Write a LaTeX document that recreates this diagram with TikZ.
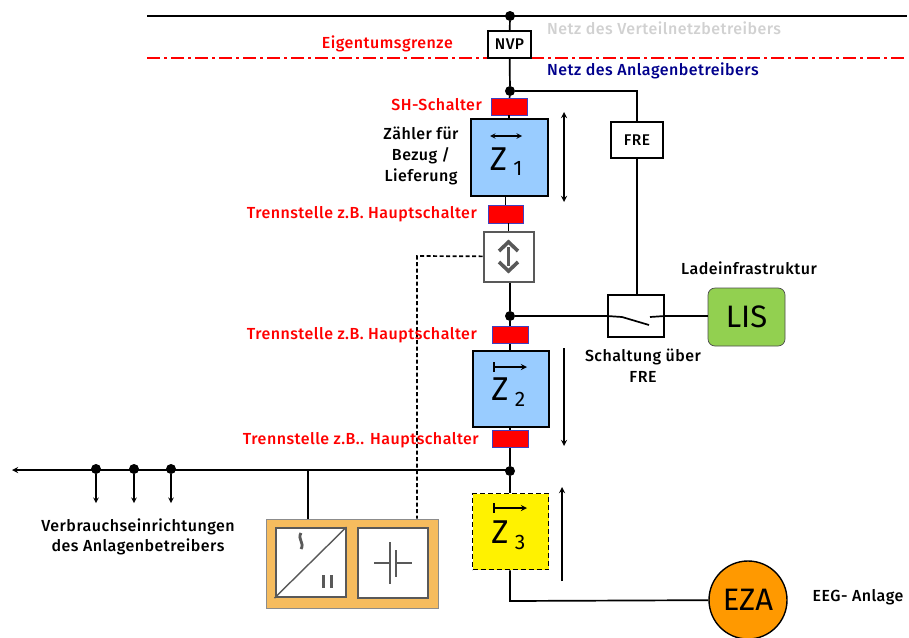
\documentclass[tikz,border=0pt]{standalone}
\usepackage{fontspec}
\setmainfont{Fira Sans}[BoldFont={* Medium},BoldFeatures={LetterSpace=3}]
\definecolor{zblue}{HTML}{99CCFF}
\definecolor{lisgreen}{HTML}{92D050}
\definecolor{ezaorange}{HTML}{FF9900}
\definecolor{wrorange}{HTML}{F6BC5E}
\definecolor{boxgrey}{HTML}{595959}
\tikzset{
wire/.style={line width=1.7pt},
thinwire/.style={line width=1.4pt},
junction/.style={circle,fill=black,inner sep=0pt,minimum size=10pt},
frame/.style={draw=black,line width=1.7pt,fill=white,rectangle,inner sep=0pt},
redtag/.style={draw=blue!50!gray,line width=.4pt,fill=red,rectangle,inner sep=0pt},
zbox/.style={draw=black,line width=2pt,rectangle,inner sep=0pt,minimum size=76pt},
redtxt/.style={text=red,font=\bfseries\fontsize{16}{18}\selectfont,inner sep=0pt},
blacktxt/.style={text=black,font=\bfseries\fontsize{16}{21}\selectfont,inner sep=0pt,align=center},
ztxt/.style={inner sep=0pt,font=\fontsize{33}{35}\selectfont},
zsub/.style={inner sep=0pt,font=\fontsize{21}{23}\selectfont},
}
\begin{document}
\begin{tikzpicture}[x=1pt,y=-1pt,>=stealth]
\useasboundingbox (0,0) rectangle (909,637);
% netz
\coordinate (topl) at (147,16);
\coordinate (topr) at (907,16);
\coordinate (redl) at (147,58);
\coordinate (redr) at (907,58);
\draw[red,line width=1.4pt,dash pattern=on 13pt off 4pt on 3pt off 4pt] (redl) -- (redr);
\draw[wire] (topl) -- (topr);
\node[junction] (jtop) at (510,16) {};
\node[frame,minimum width=43pt,minimum height=27pt,font=\bfseries\fontsize{15.5}{17}\selectfont] (nvp) at (509.5,44.5) {NVP};
\node[junction] (jfre) at (510,91) {};
\node[frame,minimum width=52pt,minimum height=36pt,font=\bfseries\fontsize{15.5}{17}\selectfont] (fre) at (637,140) {FRE};
\node[redtag,minimum width=36pt,minimum height=17pt] (sh) at (509,106.5) {};
\node[zbox,fill=zblue,minimum size=77pt] (z1) at (509,157) {};
\node[redtag,minimum width=35pt,minimum height=18pt] (t1) at (505.5,214) {};
\node[frame,draw=boxgrey,line width=2pt,minimum size=50pt] (bidir) at (508.5,256.5) {};
\node[junction] (jlis) at (510,316) {};
\node[redtag,minimum width=36pt,minimum height=17pt] (t2) at (510,335) {};
\node[zbox,fill=zblue] (z2) at (510.5,388.5) {};
\node[redtag,minimum width=36pt,minimum height=17pt] (t3) at (510,439) {};
\node[junction] (jbus) at (510,471) {};
\node[zbox,fill=yellow,dash pattern=on 5pt off 3pt,line width=1.8pt] (z3) at (510.5,531.5) {};
\node[frame,minimum width=56pt,minimum height=42pt] (sw) at (636,316) {};
\node[draw=black!70,line width=.7pt,fill=lisgreen,rounded corners=7pt,minimum width=77pt,minimum height=58pt,inner sep=0pt,font=\fontsize{31}{33}\selectfont] (lis) at (746.5,317) {LIS};
\node[circle,draw=black,line width=1.4pt,fill=ezaorange,minimum size=78pt,inner sep=0pt,font=\fontsize{31}{33}\selectfont] (eza) at (748,600) {EZA};
\node[draw=black!45,line width=.8pt,fill=wrorange,rectangle,minimum width=172pt,minimum height=89pt,inner sep=0pt] (wr) at (352,563.5) {};
\node[frame,draw=boxgrey,line width=2pt,minimum width=70pt,minimum height=69pt] (ac) at (310.5,562.5) {};
\node[frame,draw=boxgrey,line width=2pt,minimum width=70pt,minimum height=70pt] (batt) at (393,563) {};
% leitungen
\draw[wire] (jtop) -- (nvp);
\draw[wire] (nvp) -- (jfre);
\draw[wire] (jfre) -- (sh);
\draw[wire] (jfre) -| (fre);
\draw[wire] (sh) -- (sh|-z1.north);
\draw[wire] (t1|-z1.south) -- (t1);
\draw[wire] (t1.south-|bidir) -- (bidir);
\draw[wire] (bidir.south-|jlis) -- (jlis);
\draw[wire] (jlis) -- (t2);
\draw[wire] (t2) -- (t2|-z2.north);
\draw[wire] (t3|-z2.south) -- (t3);
\draw[wire] (t3) -- (jbus);
\draw[wire] (jbus) -- (jbus|-z3.north);
\coordinate (ezacorner) at (510,601);
\draw[wire] (z3.south-|ezacorner) -- (ezacorner) -- (eza);
\draw[line width=1.1pt] (fre) -- (fre|-sw.north);
\draw[wire] (jlis) -- (sw.west);
\draw[wire] (sw.east) -- (lis.west|-sw.east);
\coordinate (busl) at (12,470);
\draw[wire,->] (jbus.center|-busl) -- (busl);
\foreach \x/\n in {96/a,134/b,171/c} {
\node[junction] (load\n) at (\x,469) {};
\coordinate (loadend\n) at (\x,503);
\draw[thinwire,->] (load\n) -- (loadend\n);
}
\coordinate (busac) at (308,470);
\draw[wire] (busac) -- (busac|-wr.north);
\coordinate (dashc) at (417,256);
\draw[wire,dash pattern=on 4pt off 2.5pt] (bidir) -- (dashc) -- (dashc|-wr.north);
% schalter
\draw[wire] (sw.west) -- (622,317) -- (649,325);
\draw[wire] (650,317) -- (sw.east);
% zaehlpfeile
\draw[wire,<->] (564,112) -- (564,202);
\draw[wire,->] (564,348) -- (564,446);
\draw[wire,->] (562,581) -- (562,487);
\draw[thinwire,<->] (490,136) -- (522,136);
\foreach \y in {367,508} {
\draw[wire,|->] (493,\y) -- (527,\y);
}
% z texte
\node[ztxt] (z1t) at (498.5,159) {Z};
\node[zsub] (z1s) at (518,168) {1};
\node[ztxt] (z2t) at (500,389) {Z};
\node[zsub] (z2s) at (520,399) {2};
\node[ztxt] (z3t) at (500,532) {Z};
\node[zsub] (z3s) at (520,542) {3};
% bidir symbol
\draw[boxgrey,line width=2.6pt] (508.5,247) -- (508.5,266);
\draw[boxgrey,line width=3.6pt] (499,251) -- (508.5,242) -- (518,251);
\draw[boxgrey,line width=3.6pt] (499,262) -- (508.5,271) -- (518,262);
% umrichter
\draw[boxgrey,line width=1.4pt] (ac.south west) -- (ac.north east);
\draw[boxgrey,line width=2.8pt] (301,533) .. controls (297,539) and (305,543) .. (301,549);
\draw[boxgrey,line width=3pt] (323,575) -- (323,588) (331,575) -- (331,588);
\draw[boxgrey,line width=1.8pt] (374,563) -- (390,563) (390,542) -- (390,584);
\draw[boxgrey,line width=2.4pt] (396,550) -- (396,577);
\draw[boxgrey,line width=1.8pt] (396,563) -- (412,563);
% texte
\node[inner sep=0pt,text=black!18,font=\bfseries\fontsize{16}{18}\selectfont,anchor=west] (vnb) at (547,28) {Netz des Verteilnetzbetreibers};
\node[inner sep=0pt,text=blue!55!black,font=\bfseries\fontsize{16}{18}\selectfont,anchor=west] (anb) at (547,71) {Netz des Anlagenbetreibers};
\node[redtxt,anchor=east] (eig) at (453,44) {Eigentumsgrenze};
\node[redtxt,anchor=east] (shl) at (482,105) {SH-Schalter};
\node[redtxt,anchor=east] (t1l) at (477,214) {Trennstelle z.B. Hauptschalter};
\node[redtxt,anchor=east] (t2l) at (477,335) {Trennstelle z.B. Hauptschalter};
\node[redtxt,anchor=east] (t3l) at (479,440) {Trennstelle z.B.. Hauptschalter};
\node[blacktxt] (zl) at (421,156) {Zähler für\\Bezug /\\Lieferung};
\node[blacktxt] (lisl) at (749,268) {Ladeinfrastruktur};
\node[blacktxt] (swl) at (643,366) {Schaltung über\\FRE};
\node[blacktxt,font=\bfseries\fontsize{16}{20}\selectfont] (vbl) at (138,537) {Verbrauchseinrichtungen\\des Anlagenbetreibers};
\node[blacktxt] (eegl) at (858,597) {EEG- Anlage};
\end{tikzpicture}
\end{document}
